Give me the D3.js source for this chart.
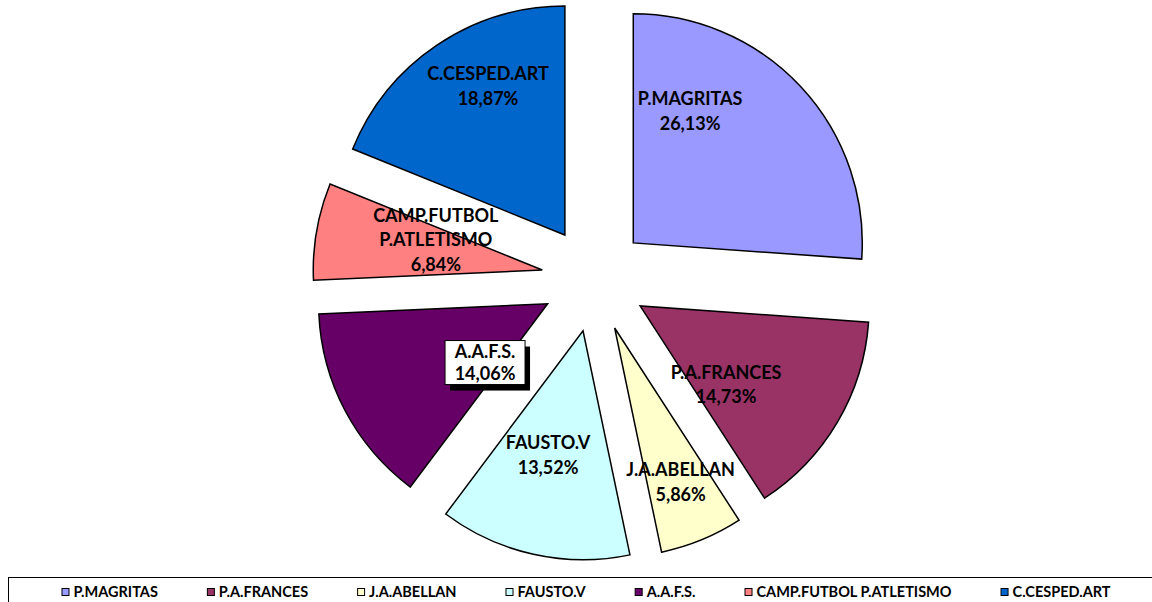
<!DOCTYPE html>
<html>
<head>
<meta charset="utf-8">
<script src="https://cdn.jsdelivr.net/npm/d3@7"></script>
<style>
  html, body { margin: 0; padding: 0; background: #fff; }
  svg { display: block; }
  text { font-family: Lato, "Open Sans", sans-serif; font-weight: bold; }
</style>
</head>
<body>
<svg id="chart" width="1152" height="602"></svg>
<script>
// ---- data ----
const categories = ["P.MAGRITAS", "P.A.FRANCES", "J.A.ABELLAN", "FAUSTO.V", "A.A.F.S.", "CAMP.FUTBOL P.ATLETISMO", "C.CESPED.ART"];
const values = [26.13, 14.73, 5.86, 13.52, 14.06, 6.84, 18.87];
const labelLines = [["P.MAGRITAS"], ["P.A.FRANCES"], ["J.A.ABELLAN"], ["FAUSTO.V"], ["A.A.F.S."], ["CAMP.FUTBOL", "P.ATLETISMO"], ["C.CESPED.ART"]];
const colors = ["#9999FF", "#993366", "#FFFFCC", "#CCFFFF", "#660066", "#FF8080", "#0066CC"];

// ---- layout config ----
const cx = 594.5, cy = 279, R = 229, explode = 53;
// label placement relative to each exploded slice apex: angle (deg, clockwise from 12h), radius fraction
const labelAngle = [23.3, 132.4, 156.8, 195.7, 226.8, 285.8, 332.7];
const labelRad = [0.627, 0.508, 0.731, 0.564, 0.375, 0.483, 0.732];
const boxedLabel = [false, false, false, false, true, false, false];

const fmt = v => v.toFixed(2).replace(".", ",") + "%";

const svg = d3.select("#chart");
const g = svg.append("g").attr("transform", `translate(${cx},${cy})`);

const pie = d3.pie().sort(null).value(d => d.v);
const arcs = pie(values.map((v, i) => ({ v, i })));
const arc = d3.arc().innerRadius(0).outerRadius(R);

const slices = g.selectAll("g.slice").data(arcs).enter().append("g")
  .attr("class", "slice")
  .attr("transform", d => {
    const [x, y] = d3.pointRadial((d.startAngle + d.endAngle) / 2, explode);
    return `translate(${x},${y})`;
  });

slices.append("path")
  .attr("d", arc)
  .attr("fill", d => colors[d.data.i])
  .attr("stroke", "#000")
  .attr("stroke-width", 1.5)
  .attr("stroke-linejoin", "miter");

const fs = 18, lh = 24.5;
slices.each(function(d) {
  const i = d.data.i;
  const [lx, ly] = d3.pointRadial(labelAngle[i] * Math.PI / 180, labelRad[i] * R);
  const lines = labelLines[i].concat([fmt(values[i])]);
  const sel = d3.select(this).append("g").attr("transform", `translate(${lx},${ly})`);
  const n = lines.length;
  if (boxedLabel[i]) {
    const bw = 80, bh = 44;
    sel.append("rect").attr("x", -bw / 2 + 5).attr("y", -bh / 2 + 6).attr("width", bw).attr("height", bh).attr("fill", "#000");
    sel.append("rect").attr("x", -bw / 2).attr("y", -bh / 2).attr("width", bw).attr("height", bh)
      .attr("fill", "#fff").attr("stroke", "#000").attr("stroke-width", 1);
  }
  const step = boxedLabel[i] ? 21.5 : lh;
  lines.forEach((t, k) => {
    sel.append("text")
      .attr("x", 0)
      .attr("y", (k - (n - 1) / 2) * step)
      .attr("dy", "0.36em")
      .attr("text-anchor", "middle")
      .attr("font-size", fs)
      .attr("fill", "#000")
      .text(t);
  });
});

// ---- legend ----
const legY = 592, legFs = 14.5, sw = 7, swGap = 5, itemGap = 49;
svg.append("rect").attr("x", 8.5).attr("y", 577.5).attr("width", 1160).attr("height", 40)
  .attr("fill", "#fff").attr("stroke", "#000").attr("stroke-width", 1);
const leg = svg.append("g");
let xpos = 0;
categories.forEach((c, i) => {
  const item = leg.append("g").attr("transform", `translate(${xpos},0)`);
  item.append("rect").attr("x", 0.5).attr("y", legY - sw / 2).attr("width", sw).attr("height", sw)
    .attr("fill", colors[i]).attr("stroke", "#000").attr("stroke-width", 1);
  const t = item.append("text").attr("x", sw + swGap).attr("y", legY).attr("dy", "0.36em")
    .attr("font-size", legFs).attr("fill", "#000").text(c);
  const w = t.node().getComputedTextLength();
  xpos += sw + swGap + w + itemGap;
});
const total = xpos - itemGap;
leg.attr("transform", `translate(${586 - total / 2},0)`);
</script>
</body>
</html>
